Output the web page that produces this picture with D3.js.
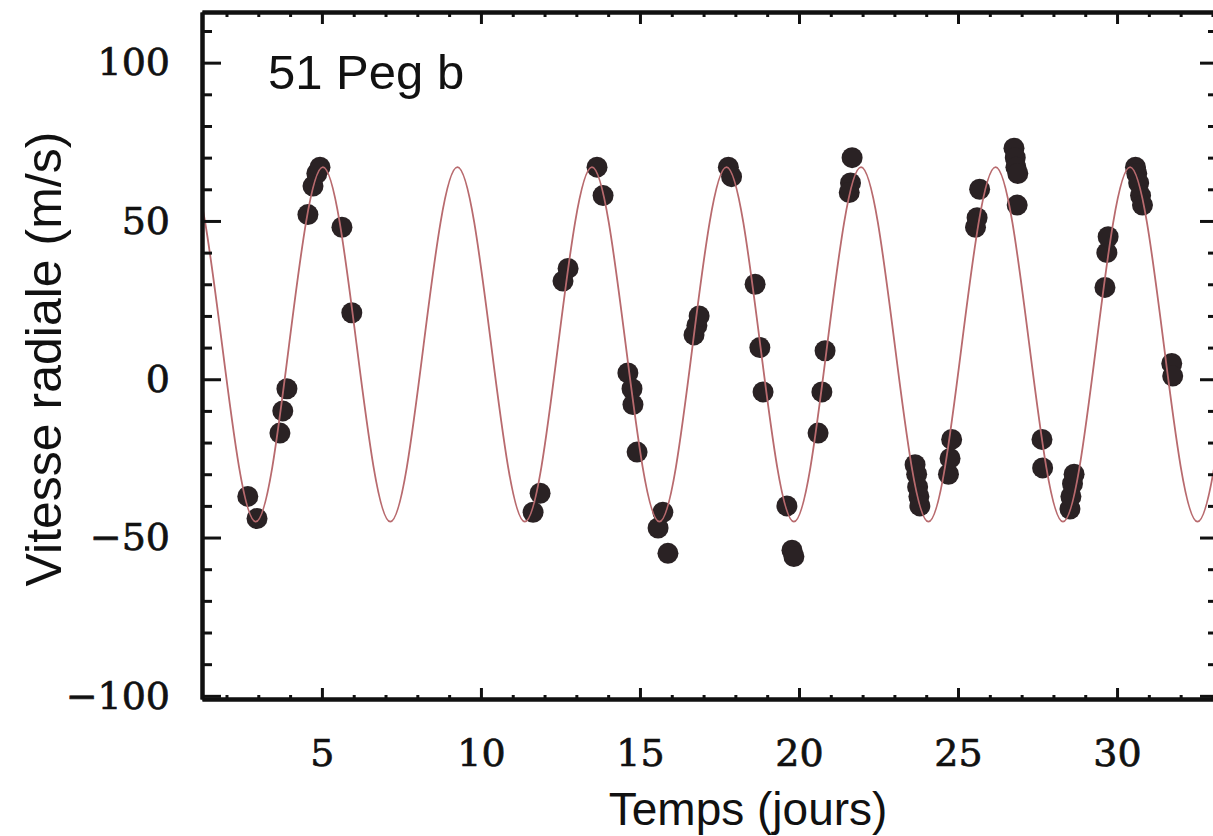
<!DOCTYPE html>
<html>
<head>
<meta charset="utf-8">
<script src="https://cdn.jsdelivr.net/npm/d3@7"></script>
<style>
  html, body { margin: 0; padding: 0; background: #ffffff; }
  svg { display: block; }
</style>
</head>
<body>
<svg id="chart" width="1213" height="836"></svg>
<script>
// ---- data ----
const chartLabel = "51 Peg b";
const xTitle = "Temps (jours)";
const yTitle = "Vitesse radiale (m/s)";

const dayTicks = [5, 10, 15, 20, 25, 30];
const dayMinorTicks = [2,3,4,6,7,8,9,11,12,13,14,16,17,18,19,21,22,23,24,26,27,28,29,31,32,33];
const velTicks = [-100, -50, 0, 50, 100];
const velMinorTicks = [-90,-80,-70,-60,-40,-30,-20,-10,10,20,30,40,60,70,80,90,110];
const dayDomain = [1.23, 33.08];
const velDomain = [-101, 116];

// observed radial velocities (day, m/s)
const obsDays = [
  2.67, 2.96, 3.68, 3.77, 3.90, 4.56, 4.72, 4.84, 4.94, 5.63, 5.94,
  11.64, 11.86, 12.58, 12.74, 13.65, 13.84, 14.62, 14.75, 14.78, 14.91,
  15.57, 15.72, 15.88, 16.70, 16.79, 16.86,
  17.78, 17.88, 18.62, 18.77, 18.87, 19.62, 19.78, 19.84, 20.60, 20.72, 20.82,
  21.67, 21.62, 21.58,
  23.65, 23.70, 23.73, 23.77, 23.80, 24.70, 24.75, 24.80, 25.55, 25.60, 25.68,
  26.76, 26.80, 26.82, 26.88, 26.86, 27.64, 27.66,
  28.52, 28.55, 28.60, 28.65, 29.62, 29.68, 29.72,
  30.58, 30.62, 30.68, 30.74, 30.80, 31.72, 31.75
];
const obsVel = [
  -37, -44, -17, -10, -3, 52, 61, 65, 67, 48, 21,
  -42, -36, 31, 35, 67, 58, 2, -3, -8, -23,
  -47, -42, -55, 14, 17, 20,
  67, 64, 30, 10, -4, -40, -54, -56, -17, -4, 9,
  70, 62, 59,
  -27, -30, -34, -37, -40, -30, -25, -19, 48, 51, 60,
  73, 70, 67, 65, 55, -19, -28,
  -41, -37, -33, -30, 29, 40, 45,
  67, 65, 62, 58, 55, 5, 1
];

// fitted orbit curve: extrema and mid-level crossings
const fitDays = [
  -0.26, 0.80, 1.86, 2.92, 3.97, 5.03, 6.09, 7.15, 8.20, 9.26, 10.32, 11.38, 12.43,
  13.49, 14.55, 15.61, 16.66, 17.72, 18.78, 19.84, 20.89, 21.95, 23.01,
  24.07, 25.12, 26.18, 27.24, 28.30, 29.35, 30.41, 31.47, 32.53, 33.59
];
const fitVel = [
  11, 67, 11, -45, 11, 67, 11, -45, 11, 67, 11, -45, 11,
  67, 11, -45, 11, 67, 11, -45, 11, 67, 11,
  -45, 11, 67, 11, -45, 11, 67, 11, -45, 11
];

// ---- layout ----
const W = 1213, H = 836;
const margin = { left: 202, top: 12, right: -2, bottom: 137 };
const iw = W - margin.left - margin.right;
const ih = H - margin.top - margin.bottom;

const svg = d3.select("#chart");
svg.append("rect").attr("width", W).attr("height", H).attr("fill", "#ffffff");

const g = svg.append("g").attr("transform", `translate(${margin.left},${margin.top})`);

const x = d3.scaleLinear().domain(dayDomain).range([0, iw]);
const y = d3.scaleLinear().domain(velDomain).range([ih, 0]);

g.append("clipPath").attr("id", "plotclip")
  .append("rect").attr("x", 0).attr("y", 0).attr("width", iw).attr("height", ih);

// points
const obs = obsDays.map((d, i) => ({ d, v: obsVel[i] }));
g.append("g").attr("clip-path", "url(#plotclip)")
  .selectAll("circle").data(obs).join("circle")
  .attr("cx", p => x(p.d))
  .attr("cy", p => y(p.v))
  .attr("r", 10.5)
  .attr("fill", "#2a2224");

// fitted curve (drawn on top of points)
const fit = fitDays.map((d, i) => ({ d, v: fitVel[i] }));
const line = d3.line().x(p => x(p.d)).y(p => y(p.v)).curve(d3.curveNatural);
g.append("path").attr("clip-path", "url(#plotclip)")
  .datum(fit)
  .attr("d", line)
  .attr("fill", "none")
  .attr("stroke", "#b86a6e")
  .attr("stroke-width", 1.8);

// ---- axes / frame ----
function styleAxis(sel, width) {
  sel.select(".domain").attr("stroke", "#111").attr("stroke-width", 4);
  sel.selectAll(".tick line").attr("stroke", "#111").attr("stroke-width", width);
}
function styleLabels(sel) {
  sel.selectAll(".tick text")
    .attr("font-family", "'DejaVu Serif', 'Liberation Serif', serif")
    .attr("font-size", 38).attr("fill", "#111")
    .attr("stroke", "#111").attr("stroke-width", 0.7);
}

// minor ticks
const minorB = g.append("g").attr("transform", `translate(0,${ih})`)
  .call(d3.axisBottom(x).tickValues(dayMinorTicks).tickSize(-4).tickSizeOuter(0).tickFormat(""));
styleAxis(minorB, 3);
const minorT = g.append("g")
  .call(d3.axisTop(x).tickValues(dayMinorTicks).tickSize(-5).tickSizeOuter(0).tickFormat(""));
styleAxis(minorT, 3);
const minorL = g.append("g")
  .call(d3.axisLeft(y).tickValues(velMinorTicks).tickSize(-10).tickSizeOuter(0).tickFormat(""));
styleAxis(minorL, 3);
const minorR = g.append("g").attr("transform", `translate(${iw},0)`)
  .call(d3.axisRight(y).tickValues(velMinorTicks).tickSize(-7).tickSizeOuter(0).tickFormat(""));
styleAxis(minorR, 3);

// major ticks with labels
const axB = g.append("g").attr("transform", `translate(0,${ih})`)
  .call(d3.axisBottom(x).tickValues(dayTicks).tickSize(-11).tickSizeOuter(0).tickPadding(40));
styleAxis(axB, 3);
styleLabels(axB);

const axT = g.append("g")
  .call(d3.axisTop(x).tickValues(dayTicks).tickSize(-12).tickSizeOuter(0).tickFormat(""));
styleAxis(axT, 3);

const axL = g.append("g")
  .call(d3.axisLeft(y).tickValues(velTicks).tickSize(-19).tickSizeOuter(0).tickPadding(32));
styleAxis(axL, 3);
styleLabels(axL);

const axR = g.append("g").attr("transform", `translate(${iw},0)`)
  .call(d3.axisRight(y).tickValues(velTicks).tickSize(-15).tickSizeOuter(0).tickFormat(""));
styleAxis(axR, 3);

// ---- text ----
g.append("text")
  .attr("x", 66).attr("y", 77)
  .attr("font-family", "'Liberation Sans', Arial, sans-serif")
  .attr("font-size", 49).attr("fill", "#111")
  .text(chartLabel);

svg.append("text")
  .attr("x", margin.left + x(18.4)).attr("y", 825)
  .attr("text-anchor", "middle")
  .attr("font-family", "'Liberation Sans', Arial, sans-serif")
  .attr("font-size", 46).attr("fill", "#111")
  .text(xTitle);

svg.append("text")
  .attr("transform", "translate(61,359) rotate(-90)")
  .attr("text-anchor", "middle")
  .attr("font-family", "'Liberation Sans', Arial, sans-serif")
  .attr("font-size", 50).attr("fill", "#111")
  .text(yTitle);
</script>
</body>
</html>
